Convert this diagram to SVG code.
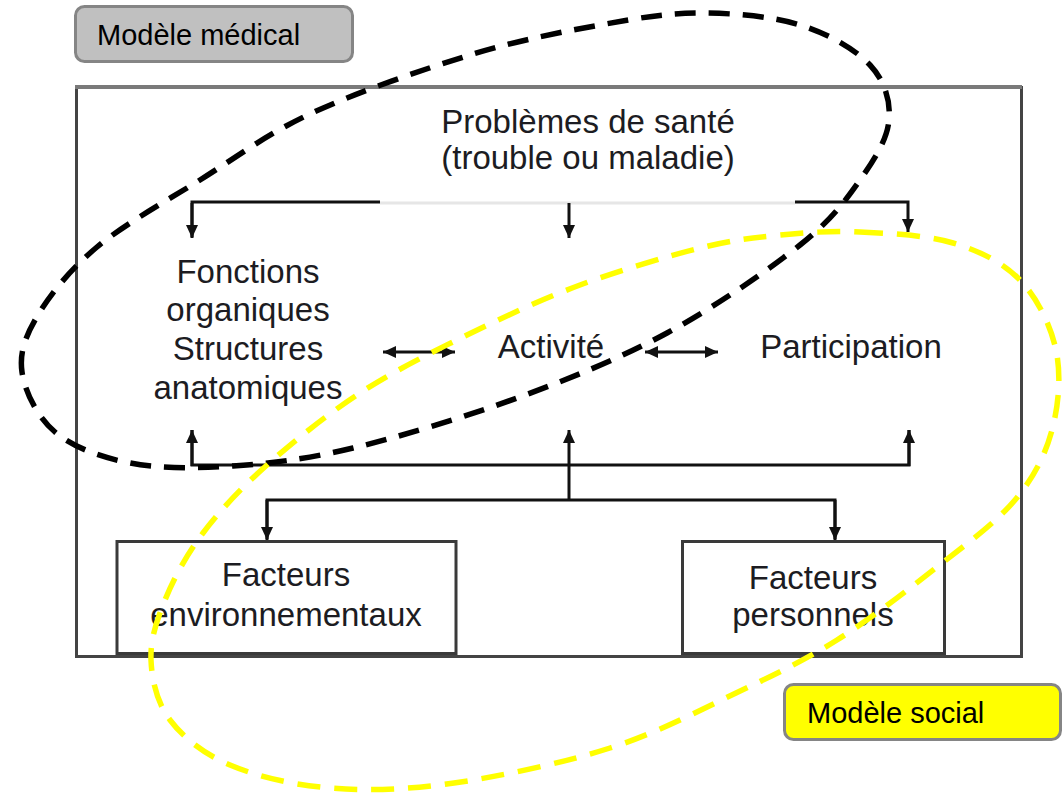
<svg xmlns="http://www.w3.org/2000/svg" width="1063" height="794" viewBox="0 0 1063 794">
<style>
.t{font-family:"Liberation Sans",Arial,sans-serif;font-size:33px;fill:#1c1c22;text-anchor:middle}
.lbl{font-family:"Liberation Sans",Arial,sans-serif;font-size:29px;fill:#000}
.c{stroke:#111;stroke-width:3;fill:none}
.box{fill:#fff;stroke:#3a3a3a;stroke-width:3}
.tag{stroke:#858585;stroke-width:3}
</style>
<defs>
<marker id="ah" markerUnits="userSpaceOnUse" markerWidth="13" markerHeight="12" refX="13" refY="6" orient="auto-start-reverse">
<path d="M0,0 L13,6 L0,12 Z" fill="#111"/>
</marker>
</defs>
<rect width="1063" height="794" fill="#fff"/>
<g id="frame">
<rect x="76.5" y="87.5" width="945" height="569" fill="#fff" stroke="#444" stroke-width="3"/>
<line x1="75" y1="87" x2="1022" y2="87" stroke="#7a7a7a" stroke-width="4"/>
</g>
<g id="sante">
<text class="t" x="588" y="133">Problèmes de santé</text>
<text class="t" x="588" y="169">(trouble ou maladie)</text>
</g>
<g id="fonctions">
<text class="t" x="248" y="283">Fonctions</text>
<text class="t" x="248" y="321">organiques</text>
<text class="t" x="248" y="360">Structures</text>
<text class="t" x="248" y="399">anatomiques</text>
</g>
<g id="activite">
<text class="t" x="551" y="358">Activité</text>
</g>
<g id="participation">
<text class="t" x="851" y="358">Participation</text>
</g>
<g id="env">
<rect class="box" x="117" y="541.5" width="339" height="112"/>
<text class="t" x="286" y="586">Facteurs</text>
<text class="t" x="286" y="626">environnementaux</text>
</g>
<g id="perso">
<rect class="box" x="682.5" y="541.5" width="262" height="112"/>
<text class="t" x="813" y="589">Facteurs</text>
<text class="t" x="813" y="626">personnels</text>
</g>
<g id="connectors">
<path class="c" d="M192,237 V202 H380"/>
<line x1="380" y1="203" x2="795" y2="203" stroke="#e6e6e6" stroke-width="3"/>
<path class="c" d="M795,202 H908 V232" marker-end="url(#ah)"/>
<line class="c" x1="192" y1="203" x2="192" y2="238" marker-end="url(#ah)"/>
<line class="c" x1="569" y1="203" x2="569" y2="238" marker-end="url(#ah)"/>
<line class="c" x1="383" y1="352" x2="455" y2="352" marker-start="url(#ah)" marker-end="url(#ah)"/>
<line class="c" x1="645" y1="352" x2="718" y2="352" marker-start="url(#ah)" marker-end="url(#ah)"/>
<path class="c" d="M192,430 V465 H909 V430"/>
<line class="c" x1="192" y1="466" x2="192" y2="430" marker-end="url(#ah)"/>
<line class="c" x1="909" y1="466" x2="909" y2="430" marker-end="url(#ah)"/>
<line class="c" x1="569" y1="501" x2="569" y2="430" marker-end="url(#ah)"/>
<path class="c" d="M267,539 V500 H835 V539"/>
<line class="c" x1="267" y1="500" x2="267" y2="540" marker-end="url(#ah)"/>
<line class="c" x1="835" y1="500" x2="835" y2="540" marker-end="url(#ah)"/>
</g>
<g id="medical-ellipse">
<path d="M22,372 C19.2,352.5 25.5,335.8 38,315 C50.5,294.2 70,269.5 97,247 C124,224.5 164.2,202.3 200,180 C235.8,157.7 267,133.8 312,113 C357,92.2 422,69.7 470,55 C518,40.3 561.7,32 600,25 C638.3,18 666.7,13 700,13 C733.3,13 771.7,16.3 800,25 C828.3,33.7 855.2,49.2 870,65 C884.8,80.8 890.7,100.8 889,120 C887.3,139.2 874.8,159.2 860,180 C845.2,200.8 832.2,219.5 800,245 C767.8,270.5 714.2,307.5 667,333 C619.8,358.5 569.3,378.8 517,398 C464.7,417.2 400.3,436.7 353,448 C305.7,459.3 270.2,463.5 233,466 C195.8,468.5 159.7,468.7 130,463 C100.3,457.3 73,447.2 55,432 C37,416.8 24.8,391.5 22,372 Z" fill="none" stroke="#000" stroke-width="5.5" stroke-dasharray="21 13"/>
</g>
<g id="social-ellipse">
<path d="M860,232 C888.8,233.3 926.3,235 953,243 C979.7,251 1002.8,262.2 1020,280 C1037.2,297.8 1050.7,325 1056,350 C1061.3,375 1058.8,405 1052,430 C1045.2,455 1034.2,477.2 1015,500 C995.8,522.8 966.7,543.7 937,567 C907.3,590.3 870.5,619 837,640 C803.5,661 773.8,675 736,693 C698.2,711 657,733 610,748 C563,763 500.7,776.3 454,783 C407.3,789.7 367.3,791 330,788 C292.7,785 256.7,776.3 230,765 C203.3,753.7 183.2,737.5 170,720 C156.8,702.5 151.8,680 151,660 C150.2,640 156.3,621.2 165,600 C173.7,578.8 186,555.5 203,533 C220,510.5 240.8,488.3 267,465 C293.2,441.7 326.7,414.7 360,393 C393.3,371.3 430.3,353 467,335 C503.7,317 541.2,299.5 580,285 C618.8,270.5 666.7,256.3 700,248 C733.3,239.7 753.3,237.7 780,235 C806.7,232.3 833.3,230.7 860,232 Z" fill="none" stroke="#ffff00" stroke-width="5.5" stroke-dasharray="23 14"/>
</g>
<g id="modele-medical">
<rect class="tag" x="75.5" y="6.5" width="277" height="55" rx="9" fill="#c0c0c0"/>
<text class="lbl" x="97" y="45">Modèle médical</text>
</g>
<g id="modele-social">
<rect class="tag" x="784.5" y="684.5" width="276" height="55" rx="9" fill="#ffff00"/>
<text class="lbl" x="807" y="723">Modèle social</text>
</g>
</svg>
